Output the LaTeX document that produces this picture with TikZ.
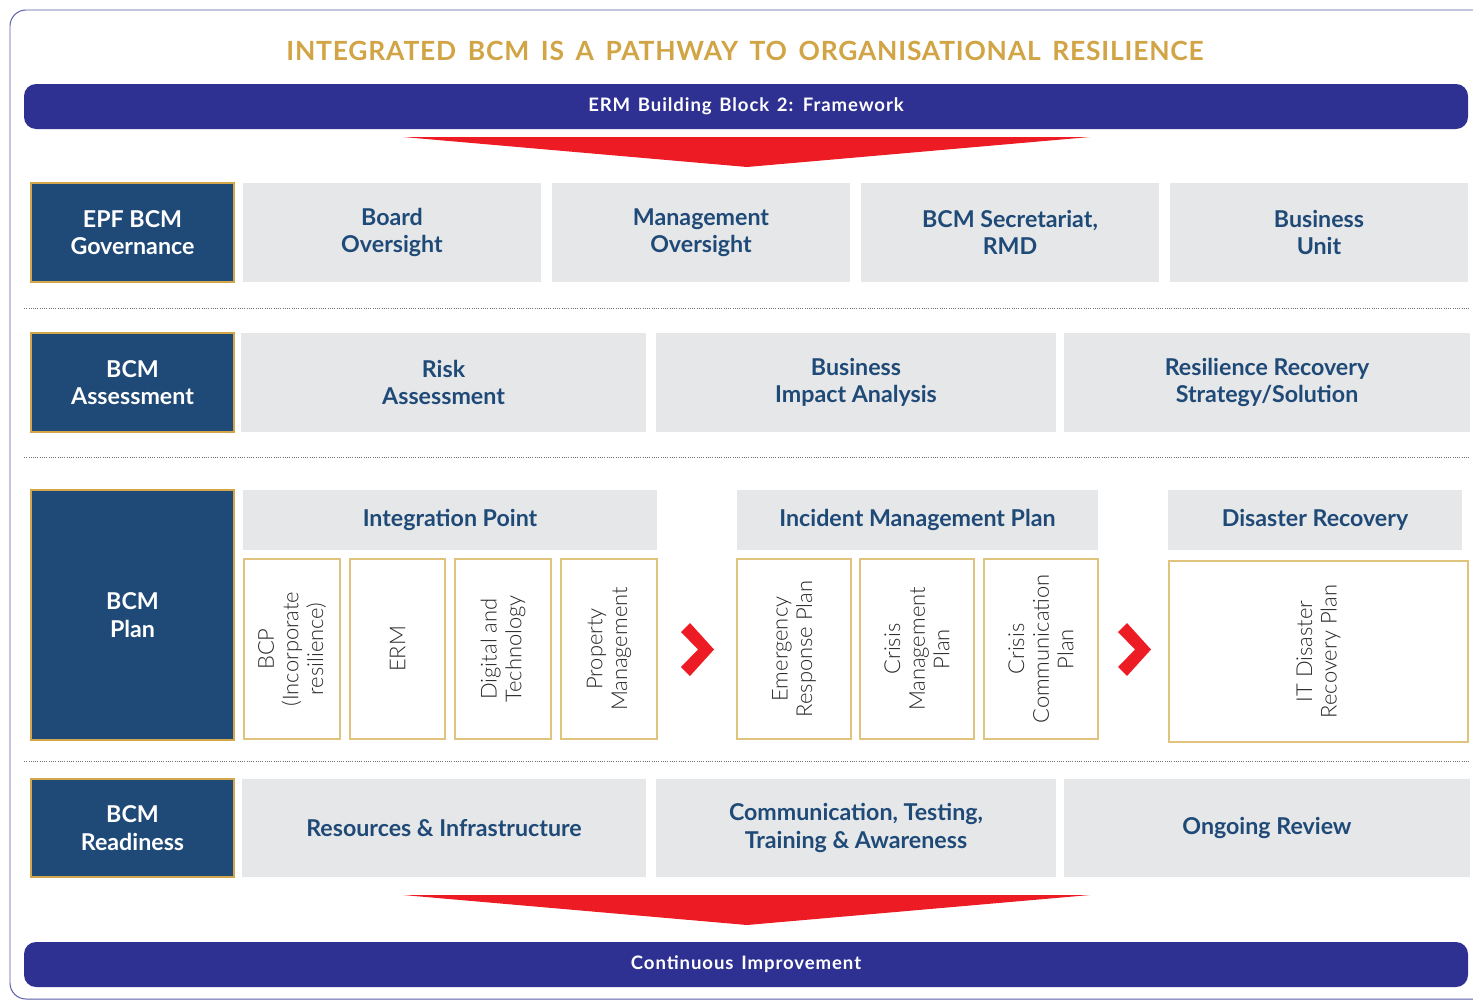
\documentclass[tikz,border=0pt]{standalone}
\usepackage{fontspec}
\setmainfont{Lato}
\newfontfamily\lightfont{Lato Light}
\newfontfamily\titlefont{Lato}[LetterSpace=3,WordSpace=1.6]
\newfontfamily\bandfont{Lato}[LetterSpace=5,WordSpace=1.4]
\usetikzlibrary{positioning}
\definecolor{navyband}{HTML}{2E3192}
\definecolor{bcmblue}{HTML}{1F4A78}
\definecolor{bcmgold}{HTML}{D4A64A}
\definecolor{lightgold}{HTML}{E0C47E}
\definecolor{titlegold}{HTML}{D1A446}
\definecolor{cellgray}{HTML}{E6E7E8}
\definecolor{bcmred}{HTML}{ED1C24}
\newcommand\pxu{0.025cm}
\newcommand\hdfont{\bfseries\fontsize{16.5}{19.5}\selectfont}

\tikzset{
  sz/.style 2 args={minimum width=#1*\pxu, minimum height=#2*\pxu},
  lefthead/.style={fill=bcmblue, draw=bcmgold, line width=2pt, text=white,
    font=\hdfont, align=center, inner sep=0pt},
  graycell/.style={fill=cellgray, text=bcmblue, font=\hdfont, align=center, inner sep=0pt},
  subcell/.style={draw=lightgold, line width=0.9pt, fill=white, inner sep=0pt},
  vtext/.style={rotate=90, align=center, text=black!85,
    font=\lightfont\fontsize{15.6}{17.5}\selectfont},
  band/.style={fill=navyband, rounded corners=0.3cm, text=white, inner sep=0pt,
    font=\bandfont\bfseries\fontsize{13.2}{15}\selectfont},
  sepline/.style={densely dotted, black!55, line width=0.6pt}
}

\begin{document}
\begin{tikzpicture}[x=\pxu, y=-\pxu]
  \useasboundingbox (0,0) rectangle (1473,1000);
  % frame
  \draw[navyband!80, line width=0.7pt, rounded corners=0.4cm] (10,10) rectangle (1490,999);

  \node[text=titlegold, font=\titlefont\bfseries\fontsize{18.8}{21}\selectfont]
    (title) at (745,51) {INTEGRATED BCM IS A PATHWAY TO ORGANISATIONAL RESILIENCE};
  \node[band, sz={1444}{45}] (erm) at (746,106.5) {ERM Building Block 2: Framework};
  \fill[bcmred] (403,137) -- (1090,137) -- (747,167) -- cycle;

  % governance
  \node[lefthead, sz={203}{99}] (gov) at (132.5,232.5) {EPF BCM\\Governance};
  \node[graycell, sz={298}{99}] (board) at (392,232.5) {Board\\Oversight};
  \node[graycell, sz={298}{99}] (mgmt) at (701,232.5) {Management\\Oversight};
  \node[graycell, sz={298}{99}] (secr) at (1010,232.5) {BCM Secretariat,\\RMD};
  \node[graycell, sz={298}{99}] (bu) at (1319,232.5) {Business\\Unit};
  \draw[sepline] (24,308) -- (1470,308);

  % assessment
  \node[lefthead, sz={203}{99}] (assess) at (132.5,382.5) {BCM\\Assessment};
  \node[graycell, sz={405}{99}] (risk) at (443.5,382.5) {Risk\\Assessment};
  \node[graycell, sz={400}{99}] (bia) at (856,382.5) {Business\\Impact Analysis};
  \node[graycell, sz={406}{99}] (rrs) at (1267,382.5) {Resilience Recovery\\Strategy/Solution};
  \draw[sepline] (24,457) -- (1470,457);

  % plan
  \node[lefthead, sz={203}{250}] (plan) at (132.5,615) {BCM\\Plan};
  \node[graycell, sz={414}{60}] (ip) at (450,520) {Integration Point};
  \node[subcell, sz={96}{180}] (bcp) at (292,649) {};
  \node[vtext] (bcp-t) at (bcp) {BCP\\(Incorporate\\resilience)};
  \node[subcell, sz={95}{180}] (ermc) at (397.5,649) {};
  \node[vtext] (ermc-t) at (ermc) {ERM};
  \node[subcell, sz={96}{180}] (dig) at (503,649) {};
  \node[vtext] (dig-t) at (dig) {Digital and\\Technology};
  \node[subcell, sz={96}{180}] (prop) at (609,649) {};
  \node[vtext] (prop-t) at (prop) {Property\\Management};
  \fill[bcmred] (681,632) -- (690,623) -- (714,649.5) -- (690,676) -- (681,667) -- (698,649.5) -- cycle;

  \node[graycell, sz={361}{60}] (imp) at (917.5,520) {Incident Management Plan};
  \node[subcell, sz={114}{180}] (erp) at (794,649) {};
  \node[vtext] (erp-t) at (erp) {Emergency\\Response Plan};
  \node[subcell, sz={114}{180}] (cmp) at (917,649) {};
  \node[vtext] (cmp-t) at (cmp) {Crisis\\Management\\Plan};
  \node[subcell, sz={114}{180}] (ccp) at (1041,649) {};
  \node[vtext] (ccp-t) at (ccp) {Crisis\\Communication\\Plan};
  \fill[bcmred] (1118,632) -- (1127,623) -- (1151,649.5) -- (1127,676) -- (1118,667) -- (1135,649.5) -- cycle;

  \node[graycell, sz={294}{60}] (dr) at (1315,520) {Disaster Recovery};
  \node[subcell, sz={299}{181}] (itdr) at (1318.5,651.5) {};
  \node[vtext] (itdr-t) at (itdr) {IT Disaster\\Recovery Plan};
  \draw[sepline] (24,761) -- (1470,761);

  % readiness
  \node[lefthead, sz={203}{98}] (ready) at (132.5,828) {BCM\\Readiness};
  \node[graycell, sz={404}{98}] (res) at (444,828) {Resources \& Infrastructure};
  \node[graycell, sz={400}{98}] (comm) at (856,828) {Communication, Testing,\\Training \& Awareness};
  \node[graycell, sz={406}{98}] (review) at (1267,828) {Ongoing Review};

  \fill[bcmred] (403,895) -- (1090,895) -- (747,925) -- cycle;
  \node[band, sz={1444}{45}] (ci) at (746,964.5) {Continuous Improvement};
\end{tikzpicture}
\end{document}
